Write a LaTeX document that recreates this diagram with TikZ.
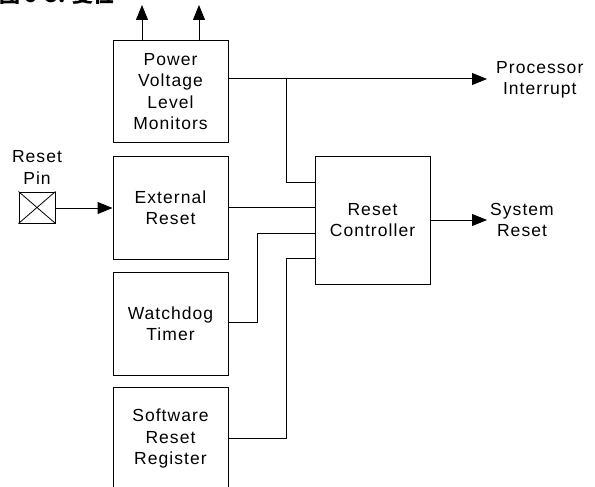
\documentclass[tikz,border=0pt]{standalone}
\usepackage{fontspec}
\setmainfont{Liberation Sans}[LetterSpace=6]
\newfontfamily\cjk{Noto Sans CJK SC}
\usetikzlibrary{arrows.meta}
\tikzset{
  blk/.style={draw, line width=1pt, minimum width=115pt, align=center, inner sep=0pt},
  lbl/.style={align=center, inner sep=0pt},
  wire/.style={line width=1pt},
  arr/.style={line width=1pt, -{Triangle[length=15pt,width=12pt]}},
}
\begin{document}
\begin{tikzpicture}[x=1pt,y=-1pt, font=\fontsize{17.5}{21.3}\selectfont]
\useasboundingbox[fill=white] (0,0) rectangle (595,487);
% title (cut off at top)
\node[anchor=base west, inner sep=0pt, font=\cjk\bfseries\fontsize{21}{23}\selectfont] (title) at (-1,2.2) {图 9-3. 复位};
% blocks
\node[blk, minimum height=102pt] (pvm) at (170.5,91.5) {Power\\Voltage\\Level\\Monitors};
\node[blk, minimum height=103pt] (ext) at (170.5,207.5) {External\\Reset};
\node[blk, minimum height=103pt] (wdt) at (170.5,323.5) {Watchdog\\Timer};
\node[blk, minimum height=103pt] (swr) at (170.5,438.5) {Software\\Reset\\Register};
\node[blk, minimum height=128pt] (rc) at (372.5,220) {Reset\\Controller};
% reset pin
\node[draw, line width=1pt, minimum width=36pt, minimum height=31pt, inner sep=0pt] (pin) at (37,207.5) {};
\draw[line width=0.8pt] (pin.north west) -- (pin.south east) (pin.north east) -- (pin.south west);
\node[lbl] (pinl) at (37,167.5) {Reset\\Pin};
% output labels
\node[lbl, anchor=west] (pi) at (496,80) {Processor\\Interrupt};
\node[lbl, anchor=west] (sr) at (490,220) {System\\Reset};
% coordinates
\coordinate (up1) at (142,5);
\coordinate (up2) at (199,5);
\coordinate (piend) at (487,79);
\coordinate (srend) at (487,220);
% connectors
\draw[arr] (pvm.north -| up1) -- (up1);
\draw[arr] (pvm.north -| up2) -- (up2);
\draw[arr] (pvm.east |- piend) -- (piend);
\draw[wire] (286,79) -- (286,182) -- (rc.west |- {(0,182)});
\draw[arr] (pin.east |- {(0,208)}) -- (ext.west |- {(0,208)});
\draw[wire] (ext.east |- {(0,207)}) -- (rc.west |- {(0,207)});
\draw[wire] (wdt.east |- {(0,322)}) -- (257,322) -- (257,233) -- (rc.west |- {(0,233)});
\draw[wire] (swr.east |- {(0,438)}) -- (286,438) -- (286,258) -- (rc.west |- {(0,258)});
\draw[arr] (rc.east |- srend) -- (srend);
\end{tikzpicture}
\end{document}
